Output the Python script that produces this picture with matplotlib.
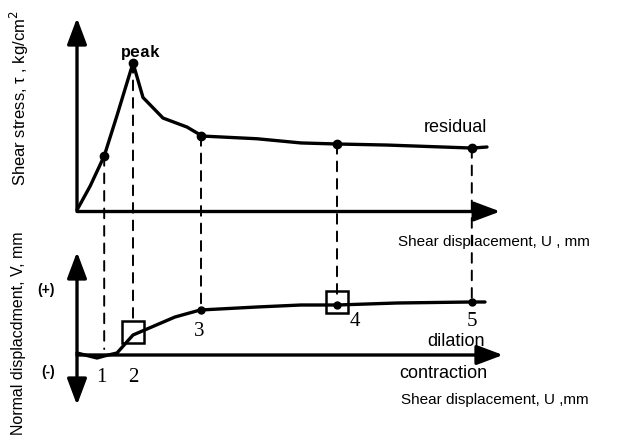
import matplotlib.pyplot as plt
from matplotlib.patches import ConnectionPatch

# shear displacement U (arbitrary units) and shear stress tau
u_stress = [0, 0.33, 0.68, 1.0, 1.4, 1.65, 2.15, 2.75, 3.13, 4.5, 5.6, 6.5, 7.75, 9.88, 10.25]
tau = [0, 1.6, 3.6, 6.3, 9.8, 7.5, 6.13, 5.53, 4.93, 4.75, 4.47, 4.4, 4.33, 4.13, 4.2]

# normal displacement V
u_normal = [0, 0.5, 0.68, 1.0, 1.4, 2.45, 3.08, 4.5, 5.6, 6.5, 8.0, 9.85, 10.2]
v_normal = [0.2, -0.3, -0.1, 0.2, 2.0, 3.8, 4.5, 4.8, 5.0, 5.0, 5.2, 5.3, 5.3]

# marked stages 1..5
stage_labels = ['1', '2', '3', '4', '5']
stage_u = [0.68, 1.4, 3.1, 6.5, 9.87]
stage_tau = [3.6, 9.8, 4.93, 4.4, 4.13]
stage_v = [-0.1, 2.0, 4.5, 5.0, 5.3]
dash_end_v = [0.6, 3.1, 4.5, 6.0, 5.3]
boxed = [1, 3]

sans = 'Liberation Sans'
fig = plt.figure(figsize=(6.3, 4.41), dpi=100)

ax1 = fig.add_axes([57 / 630, (441 - 225) / 441, 480 / 630, 210 / 441])
ax1.set_xlim(-0.5, 11.5)
ax1.set_ylim(-1, 13)
ax1.axis('off')

ax2 = fig.add_axes([57 / 630, (441 - 415) / 441, 480 / 630, 175 / 441])
ax2.set_xlim(-0.5, 11.5)
ax2.set_ylim(-6, 11.5)
ax2.axis('off')

arr = dict(arrowstyle='-|>,head_length=0.8,head_width=0.3', lw=2.4, color='k',
           shrinkA=0, shrinkB=0, mutation_scale=20)
ax1.annotate('', xy=(0, 12.8), xytext=(0, 0), arrowprops=arr)
ax1.annotate('', xy=(10.58, -0.1), xytext=(0, -0.1), arrowprops=arr)
ax2.annotate('', xy=(10.65, 0), xytext=(0, 0), arrowprops=arr)
arr2 = dict(arr, arrowstyle='<|-|>,head_length=0.8,head_width=0.3')
ax2.annotate('', xy=(0, 10.3), xytext=(0, -5.0), arrowprops=arr2)

# curves
ax1.plot(u_stress, tau, color='k', lw=2.4, solid_capstyle='round', solid_joinstyle='round')
ax1.plot(stage_u, stage_tau, 'o', color='k', ms=6)
ax2.plot(u_normal, v_normal, color='k', lw=2.4, solid_capstyle='round', solid_joinstyle='round')
ax2.plot([stage_u[i] for i in (2, 3, 4)], [stage_v[i] for i in (2, 3, 4)],
         'o', color='k', ms=5)
for i in boxed:
    ax2.plot(stage_u[i], stage_v[i] + 0.3, 's', ms=16, mfc='none', mec='k', mew=1.8)

# dashed drop lines
for u, t, v in zip(stage_u, stage_tau, dash_end_v):
    cp = ConnectionPatch(xyA=(u, t), coordsA=ax1.transData,
                         xyB=(u, v), coordsB=ax2.transData,
                         linestyle=(0, (5, 4)), lw=1.4, color='k')
    fig.add_artist(cp)

# stage numbers
num_pos = [(0.62, -2.2), (1.4, -2.2), (3.05, 2.3), (6.95, 3.3), (9.87, 3.3)]
for lab, (x, y) in zip(stage_labels, num_pos):
    ax2.text(x, y, lab, fontsize=15, family='Liberation Serif', ha='center', va='center')

ax1.text(1.6, 10.5, 'peak', fontsize=12, family=['Liberation Mono', 'DejaVu Sans Mono'],
         weight='bold', ha='center', va='center')
ax1.text(10.25, 5.5, 'residual', fontsize=13, family=sans, ha='right', va='center')
ax1.text(8.03, -2.15, 'Shear displacement, U , mm', fontsize=11, family=sans,
         ha='left', va='center')

ax2.text(-0.55, 6.5, '(+)', fontsize=10, family=sans, weight='bold', ha='right', va='center')
ax2.text(-0.55, -1.7, '(-)', fontsize=10, family=sans, weight='bold', ha='right', va='center')
ax2.text(10.2, 1.3, 'dilation', fontsize=13, family=sans, ha='right', va='center')
ax2.text(8.05, -1.8, 'contraction', fontsize=13, family=sans, ha='left', va='center')
ax2.text(8.1, -4.5, 'Shear displacement, U ,mm', fontsize=11, family=sans,
         ha='left', va='center')

fig.text(19 / 630, 1 - 98 / 441, 'Shear stress, τ , kg/cm$^2$', rotation=90,
         fontsize=12, family=sans, ha='center', va='center')
fig.text(19 / 630, 1 - 333 / 441, 'Normal displacdment, V, mm', rotation=90,
         fontsize=11.5, family=sans, ha='center', va='center')

fig.savefig('out.png', dpi=100)
